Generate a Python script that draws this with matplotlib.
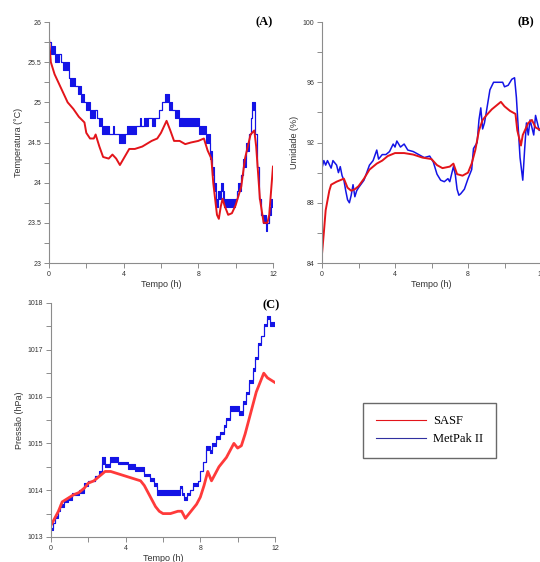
import numpy as np
import matplotlib
matplotlib.use("Agg")
import matplotlib.pyplot as plt
from matplotlib.lines import Line2D

# (A) temperature - SASF
ta_red = [0.0, 0.1, 0.3, 0.5, 0.6, 0.8, 1.0, 1.3, 1.6, 1.9, 2.0, 2.2, 2.4, 2.5, 2.7, 2.9,
          3.2, 3.4, 3.6, 3.8, 4.0, 4.3, 4.6, 5.0, 5.5, 5.8, 6.0, 6.3, 6.5, 6.7, 7.0, 7.3,
          7.6, 8.0, 8.3, 8.5, 8.7, 8.8, 9.0, 9.1, 9.2, 9.3, 9.4, 9.6, 9.8, 10.0, 10.3,
          10.5, 10.8, 11.0, 11.1, 11.3, 11.5, 11.7, 11.8, 11.9, 12.0]
temp_red = [25.8, 25.5, 25.35, 25.25, 25.2, 25.1, 25.0, 24.92, 24.82, 24.75, 24.62, 24.55,
            24.55, 24.6, 24.45, 24.32, 24.3, 24.35, 24.3, 24.22, 24.3, 24.42, 24.42, 24.45,
            24.52, 24.55, 24.62, 24.77, 24.65, 24.52, 24.52, 24.48, 24.5, 24.52, 24.55,
            24.4, 24.3, 24.0, 23.6, 23.55, 23.7, 23.8, 23.72, 23.6, 23.62, 23.72, 23.95,
            24.3, 24.6, 24.65, 24.45, 23.8, 23.5, 23.5, 23.6, 23.9, 24.2]

# (A) temperature - MetPak II (step values, lo/hi where the reading flickers)
ta_blue = [0.0, 0.1, 0.3, 0.55, 0.65, 0.75, 1.05, 1.1, 1.4, 1.55, 1.7, 1.9, 2.0, 2.2, 2.45,
           2.55, 2.7, 2.85, 3.2, 3.45, 3.5, 3.75, 4.05, 4.2, 4.65, 4.85, 4.95, 5.1, 5.3, 5.5,
           5.7, 5.9, 6.05, 6.2, 6.45, 6.6, 6.75, 6.95, 7.05, 7.15, 7.35, 8.05, 8.4, 8.6,
           8.75, 8.85, 8.95, 9.05, 9.2, 9.3, 9.4, 9.95, 10.05, 10.15, 10.3, 10.4, 10.55,
           10.7, 10.8, 10.85, 11.05, 11.15, 11.25, 11.35, 11.45, 11.6, 11.7, 11.8, 11.9, 12.0]
temp_blue_lo = [25.75, 25.6, 25.5, 25.6, 25.5, 25.4, 25.3, 25.2, 25.2, 25.1, 25.0, 25.0, 24.9,
                24.8, 24.9, 24.8, 24.7, 24.6, 24.6, 24.6, 24.6, 24.5, 24.6, 24.6, 24.7, 24.7,
                24.7, 24.7, 24.8, 24.7, 24.8, 24.9, 25.0, 25.0, 24.9, 24.9, 24.8, 24.7, 24.8,
                24.7, 24.7, 24.6, 24.5, 24.3, 24.1, 23.9, 23.7, 23.8, 23.9, 23.8, 23.7, 23.8,
                23.9, 23.9, 24.1, 24.2, 24.4, 24.6, 24.8, 24.9, 24.6, 24.2, 23.8, 23.6, 23.5,
                23.4, 23.5, 23.6, 23.7, 23.7]
temp_blue_hi = [25.75, 25.7, 25.6, 25.6, 25.5, 25.5, 25.3, 25.3, 25.2, 25.2, 25.1, 25.0, 25.0,
                24.9, 24.9, 24.8, 24.8, 24.7, 24.6, 24.7, 24.6, 24.6, 24.6, 24.7, 24.7, 24.8,
                24.7, 24.8, 24.8, 24.8, 24.8, 24.9, 25.0, 25.1, 25.0, 24.9, 24.9, 24.8, 24.8,
                24.8, 24.8, 24.7, 24.6, 24.4, 24.2, 24.0, 23.8, 23.9, 24.0, 23.9, 23.8, 23.8,
                23.9, 24.0, 24.1, 24.3, 24.5, 24.6, 24.8, 25.0, 24.6, 24.2, 23.8, 23.6, 23.6,
                23.5, 23.5, 23.7, 23.8, 23.8]

# (B) humidity
tb_red = [0.0, 0.1, 0.2, 0.4, 0.5, 0.8, 1.0, 1.2, 1.4, 1.6, 1.8, 2.0, 2.3, 2.6, 3.0, 3.3,
          3.6, 4.0, 4.5, 5.0, 5.5, 6.0, 6.3, 6.6, 7.0, 7.2, 7.4, 7.7, 8.0, 8.2, 8.4, 8.6,
          8.8, 9.0, 9.3, 9.6, 9.8, 10.0, 10.3, 10.6, 10.7, 10.9, 11.0, 11.3, 11.5, 11.7, 12.0]
hum_red = [84.6, 86.0, 87.5, 88.8, 89.2, 89.4, 89.5, 89.6, 89.0, 88.8, 88.9, 89.1, 89.6,
           90.2, 90.6, 90.8, 91.1, 91.3, 91.3, 91.2, 91.0, 90.9, 90.5, 90.3, 90.4, 90.6,
           89.9, 89.8, 90.0, 90.6, 91.5, 92.8, 93.5, 93.8, 94.2, 94.5, 94.7, 94.4, 94.1,
           93.9, 92.8, 91.8, 92.5, 93.3, 93.5, 93.0, 92.8]
tb_blue = [0.0, 0.1, 0.2, 0.3, 0.5, 0.6, 0.8, 0.9, 1.0, 1.1, 1.2, 1.3, 1.4, 1.5, 1.6, 1.7,
           1.8, 1.9, 2.0, 2.3, 2.6, 2.8, 3.0, 3.1, 3.3, 3.5, 3.7, 3.9, 4.0, 4.1, 4.3, 4.5,
           4.7, 5.0, 5.3, 5.6, 5.9, 6.1, 6.3, 6.5, 6.7, 6.9, 7.0, 7.2, 7.3, 7.4, 7.5, 7.6,
           7.8, 8.0, 8.2, 8.3, 8.4, 8.5, 8.6, 8.7, 8.8, 8.9, 9.0, 9.2, 9.4, 9.7, 9.9, 10.0,
           10.2, 10.4, 10.55, 10.65, 10.75, 10.85, 10.9, 11.0, 11.1, 11.2, 11.3, 11.4, 11.6,
           11.7, 11.9, 12.0]
hum_blue = [90.3, 90.8, 90.5, 90.8, 90.3, 90.8, 90.5, 90.0, 90.4, 89.8, 89.5, 88.8, 88.2,
            88.0, 88.5, 89.2, 88.4, 88.8, 89.0, 89.5, 90.5, 90.8, 91.5, 90.9, 91.2, 91.2,
            91.4, 91.9, 91.7, 92.1, 91.7, 91.9, 91.5, 91.4, 91.2, 91.0, 91.1, 90.7, 89.9,
            89.5, 89.4, 89.6, 89.4, 90.4, 89.9, 88.9, 88.5, 88.6, 88.9, 89.6, 90.2, 91.6,
            91.8, 92.0, 93.5, 94.3, 92.9, 93.3, 94.0, 95.5, 96.0, 96.0, 96.0, 95.7, 95.8,
            96.2, 96.3, 95.0, 93.0, 91.0, 90.5, 89.5, 91.5, 93.3, 92.5, 93.5, 92.5, 93.8,
            92.8, 93.0]

# (C) pressure
tc_red = [0.0, 0.2, 0.4, 0.6, 0.8, 1.0, 1.2, 1.5, 1.8, 2.0, 2.3, 2.6, 2.9, 3.2, 3.6, 4.0,
          4.4, 4.8, 5.0, 5.2, 5.4, 5.6, 5.8, 6.0, 6.4, 6.8, 7.0, 7.2, 7.4, 7.6, 7.8, 8.0,
          8.2, 8.4, 8.6, 8.8, 9.0, 9.2, 9.4, 9.6, 9.8, 10.0, 10.2, 10.4, 10.6, 10.8, 11.0,
          11.2, 11.4, 11.6, 12.0]
pres_red = [1013.25, 1013.4, 1013.55, 1013.75, 1013.8, 1013.85, 1013.9, 1013.95, 1014.05,
            1014.15, 1014.2, 1014.3, 1014.4, 1014.4, 1014.35, 1014.3, 1014.25, 1014.2,
            1014.1, 1013.95, 1013.8, 1013.65, 1013.55, 1013.5, 1013.5, 1013.55, 1013.55,
            1013.4, 1013.5, 1013.6, 1013.7, 1013.85, 1014.1, 1014.4, 1014.2, 1014.35,
            1014.5, 1014.6, 1014.7, 1014.85, 1015.0, 1014.9, 1014.95, 1015.2, 1015.5,
            1015.8, 1016.1, 1016.3, 1016.5, 1016.4, 1016.3]
tc_blue = [0.0, 0.1, 0.2, 0.35, 0.5, 0.7, 0.9, 1.1, 1.5, 1.75, 2.0, 2.35, 2.55, 2.75, 2.9,
           3.15, 3.6, 4.1, 4.5, 5.0, 5.3, 5.5, 5.7, 6.9, 7.0, 7.15, 7.3, 7.45, 7.6, 7.85,
           8.0, 8.15, 8.3, 8.5, 8.65, 8.85, 9.05, 9.25, 9.4, 9.6, 10.05, 10.3, 10.45, 10.6,
           10.8, 10.95, 11.1, 11.25, 11.4, 11.55, 11.75, 12.0]
pres_blue_lo = [1013.15, 1013.3, 1013.4, 1013.55, 1013.65, 1013.75, 1013.8, 1013.9, 1013.95,
                1014.1, 1014.2, 1014.3, 1014.35, 1014.55, 1014.5, 1014.6, 1014.55, 1014.45,
                1014.4, 1014.3, 1014.2, 1014.1, 1013.9, 1014.05, 1013.9, 1013.8, 1013.9,
                1014.0, 1014.1, 1014.2, 1014.4, 1014.6, 1014.85, 1014.8, 1014.95, 1015.1,
                1015.2, 1015.35, 1015.5, 1015.7, 1015.6, 1015.85, 1016.05, 1016.3, 1016.55,
                1016.8, 1017.1, 1017.3, 1017.5, 1017.65, 1017.5, 1017.5]
pres_blue_hi = [1013.2, 1013.3, 1013.45, 1013.6, 1013.7, 1013.8, 1013.85, 1013.95, 1014.0,
                1014.15, 1014.2, 1014.3, 1014.4, 1014.7, 1014.55, 1014.7, 1014.6, 1014.55,
                1014.5, 1014.35, 1014.25, 1014.15, 1014.0, 1014.1, 1013.95, 1013.85, 1013.95,
                1014.0, 1014.15, 1014.2, 1014.4, 1014.6, 1014.95, 1014.85, 1015.0, 1015.15,
                1015.25, 1015.4, 1015.55, 1015.8, 1015.7, 1015.9, 1016.1, 1016.35, 1016.6,
                1016.85, 1017.15, 1017.3, 1017.55, 1017.72, 1017.6, 1017.6]

RED = "#e3141a"
RED_C = "#ff3a3a"
BLUE = "#1414e6"
GRAY = "#8c8c8c"

plt.rcParams["font.family"] = ["Liberation Sans", "DejaVu Sans"]

fig = plt.figure(figsize=(5.4, 5.62), dpi=100)
ax_a = fig.add_axes([0.0907, 0.532, 0.4148, 0.4288])
ax_b = fig.add_axes([0.5963, 0.532, 0.4056, 0.4288])
ax_c = fig.add_axes([0.0944, 0.0445, 0.4148, 0.4164])


def style(ax, ylim, ymajor, yminor, ylabel):
    ax.set_xlim(0, 12)
    ax.set_ylim(*ylim)
    ax.set_xticks([0, 4, 8, 12])
    ax.set_xticks([2, 6, 10], minor=True)
    ax.set_yticks(ymajor)
    ax.set_yticks(yminor, minor=True)
    for s in ["top", "right"]:
        ax.spines[s].set_visible(False)
    for s in ["left", "bottom"]:
        ax.spines[s].set_color(GRAY)
        ax.spines[s].set_linewidth(0.8)
    ax.tick_params(which="both", direction="out", color=GRAY, width=0.7,
                   labelsize=5, labelcolor="#333333", pad=2, length=3.5)
    ax.set_ylabel(ylabel, fontsize=6.5, color="#333333", labelpad=3)
    ax.set_xlabel("Tempo (h)", fontsize=6.5, color="#333333", labelpad=2)


def blue_steps(ax, t, lo, hi):
    ax.fill_between(t, lo, hi, step="post", color=BLUE, lw=0)
    ax.step(t, lo, where="post", color=BLUE, lw=0.8)
    ax.step(t, hi, where="post", color=BLUE, lw=0.8)


# (A)
style(ax_a, (23, 26), [23, 23.5, 24, 24.5, 25, 25.5, 26],
      np.arange(23.25, 26, 0.5), "Temperatura (°C)")
ax_a.set_yticklabels(["23", "23.5", "24", "24.5", "25", "25.5", "26"])
blue_steps(ax_a, ta_blue, temp_blue_lo, temp_blue_hi)
ax_a.plot(ta_red, temp_red, color=RED, lw=1.4)
ax_a.text(1.0, 1.0, "(A)", transform=ax_a.transAxes, ha="right", va="center",
          fontsize=9, fontweight="bold", family="Liberation Serif")

# (B)
style(ax_b, (84, 100), [84, 88, 92, 96, 100], [86, 90, 94, 98], "Umidade (%)")
ax_b.plot(tb_blue, hum_blue, color=BLUE, lw=1.1)
ax_b.plot(tb_red, hum_red, color=RED, lw=1.4)
ax_b.text(0.97, 1.0, "(B)", transform=ax_b.transAxes, ha="right", va="center",
          fontsize=9, fontweight="bold", family="Liberation Serif")

# (C)
style(ax_c, (1013, 1018), [1013, 1014, 1015, 1016, 1017, 1018],
      np.arange(1013.5, 1018, 1.0), "Pressão (hPa)")
blue_steps(ax_c, tc_blue, pres_blue_lo, pres_blue_hi)
ax_c.plot(tc_red, pres_red, color=RED_C, lw=2.0)
ax_c.text(1.02, 0.99, "(C)", transform=ax_c.transAxes, ha="right", va="center",
          fontsize=9, fontweight="bold", family="Liberation Serif")

# legend
handles = [Line2D([], [], color=RED, lw=0.8), Line2D([], [], color="#3030a0", lw=0.8)]
leg = fig.legend(handles, ["SASF", "MetPak II"], loc="upper left",
                 bbox_to_anchor=(363 / 540, 1 - 403 / 562),
                 prop={"family": "Liberation Serif", "size": 9},
                 frameon=True, fancybox=False, edgecolor="#444444",
                 handlelength=4.0, handletextpad=0.6, borderpad=1.0,
                 labelspacing=0.45, borderaxespad=0)
leg.get_frame().set_linewidth(1.0)

fig.savefig("out.png", dpi=100)
